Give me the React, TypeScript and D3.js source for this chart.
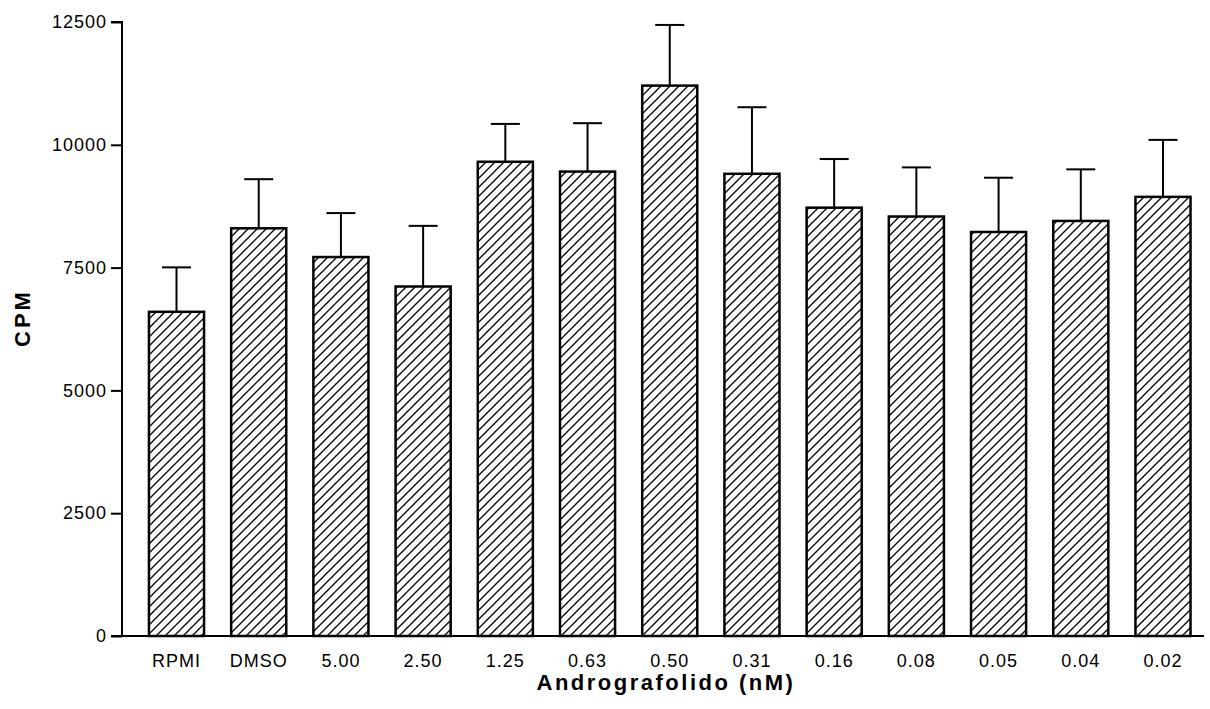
import { useEffect, useRef } from "react";
import * as d3 from "d3";

// categories and values
const categories = ["RPMI", "DMSO", "5.00", "2.50", "1.25", "0.63", "0.50", "0.31", "0.16", "0.08", "0.05", "0.04", "0.02"];
const means = [6600, 8300, 7715, 7115, 9655, 9455, 11205, 9410, 8720, 8540, 8225, 8450, 8940];
const errors = [905, 1000, 895, 1235, 770, 985, 1235, 1355, 990, 1000, 1105, 1050, 1160];
const yTicks = [0, 2500, 5000, 7500, 10000, 12500];

const App = () => {
  const svgRef = useRef<SVGSVGElement | null>(null);

  useEffect(() => {
    const width = 1210;
    const height = 709;
    const left = 122;
    const right = 1204;
    const top = 22;
    const bottom = 636;

    const svg = d3.select(svgRef.current);
    svg.selectAll("*").remove();
    svg.attr("width", width).attr("height", height);

    const font = "Arial, 'Liberation Sans', sans-serif";

    // hatch pattern
    const defs = svg.append("defs");
    const pat = defs
      .append("pattern")
      .attr("id", "hatch")
      .attr("patternUnits", "userSpaceOnUse")
      .attr("width", 9)
      .attr("height", 9);
    pat
      .append("path")
      .attr("d", "M-1,10 L10,-1 M-3,3 L3,-3 M6,12 L12,6")
      .attr("stroke", "#000")
      .attr("stroke-width", 1.3);

    const x = d3
      .scaleBand()
      .domain(categories)
      .range([135.4, 1204.1])
      .paddingInner(0.33)
      .paddingOuter(0.165);

    const y = d3.scaleLinear().domain([0, 12500]).range([bottom, top]);

    // error bars (drawn first so bar outline sits on top)
    const eb = svg.append("g");
    categories.forEach((c, i) => {
      const cx = (x(c) as number) + x.bandwidth() / 2;
      eb.append("line")
        .attr("x1", cx)
        .attr("x2", cx)
        .attr("y1", y(means[i]))
        .attr("y2", y(means[i] + errors[i]))
        .attr("stroke", "#000")
        .attr("stroke-width", 2);
      eb.append("line")
        .attr("x1", cx - 14.5)
        .attr("x2", cx + 14.5)
        .attr("y1", y(means[i] + errors[i]))
        .attr("y2", y(means[i] + errors[i]))
        .attr("stroke", "#000")
        .attr("stroke-width", 2);
    });

    // bars
    svg
      .append("g")
      .selectAll("rect")
      .data(categories)
      .enter()
      .append("rect")
      .attr("x", (d) => x(d) as number)
      .attr("y", (d, i) => y(means[i]))
      .attr("width", x.bandwidth())
      .attr("height", (d, i) => bottom - y(means[i]))
      .attr("fill", "url(#hatch)")
      .attr("stroke", "#000")
      .attr("stroke-width", 2.5);

    // y axis
    const yAxis = svg
      .append("g")
      .attr("transform", `translate(${left},0)`)
      .call(d3.axisLeft(y).tickValues(yTicks).tickSize(11).tickPadding(4).tickFormat(d3.format("d")));
    yAxis.select(".domain").attr("stroke-width", 2).attr("d", `M-11,${top}H0V${bottom}`);
    yAxis.selectAll(".tick line").attr("stroke-width", 2);
    yAxis
      .selectAll("text")
      .style("font-family", font)
      .style("font-size", "18px")
      .style("letter-spacing", "1px")
      .attr("fill", "#000");

    // x axis line
    svg
      .append("line")
      .attr("x1", left - 11)
      .attr("x2", right)
      .attr("y1", bottom)
      .attr("y2", bottom)
      .attr("stroke", "#000")
      .attr("stroke-width", 2);

    // x tick labels
    svg
      .append("g")
      .selectAll("text")
      .data(categories)
      .enter()
      .append("text")
      .attr("x", (d) => (x(d) as number) + x.bandwidth() / 2)
      .attr("y", 667)
      .attr("text-anchor", "middle")
      .style("font-family", font)
      .style("font-size", "18px")
      .style("letter-spacing", "1px")
      .text((d) => d);

    // axis titles
    svg
      .append("text")
      .attr("x", 666)
      .attr("y", 690)
      .attr("text-anchor", "middle")
      .style("font-family", font)
      .style("font-size", "22px")
      .style("font-weight", "bold")
      .style("letter-spacing", "2.5px")
      .text("Andrografolido (nM)");

    svg
      .append("text")
      .attr("transform", `translate(30,318) rotate(-90)`)
      .attr("text-anchor", "middle")
      .style("font-family", font)
      .style("font-size", "22px")
      .style("font-weight", "bold")
      .style("letter-spacing", "3px")
      .text("CPM");
  }, []);

  return (
    <div>
      <svg ref={svgRef} style={{ position: "absolute", left: 0, top: 0, background: "#fff" }}></svg>
    </div>
  );
};

export default App;
